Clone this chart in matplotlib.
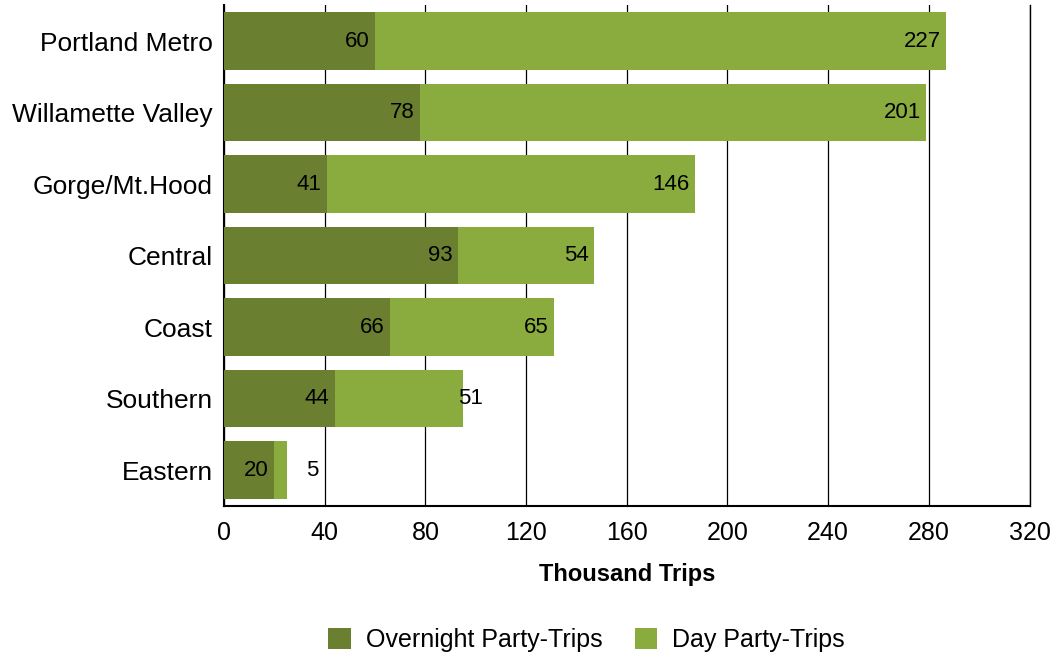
import numpy as np
import matplotlib.pyplot as plt

plt.rcParams['font.family'] = ['Liberation Sans', 'DejaVu Sans']

regions = ['Portland Metro', 'Willamette Valley', 'Gorge/Mt.Hood', 'Central',
           'Coast', 'Southern', 'Eastern']
overnight = [60, 78, 41, 93, 66, 44, 20]
day = [227, 201, 146, 54, 65, 51, 5]

dark = '#6A8030'
light = '#8AAC3E'

fig = plt.figure(figsize=(10.57, 6.56), dpi=100)
ax = fig.add_axes([0.212, 0.229, 0.762, 0.763])

y = np.arange(len(regions))
ax.barh(y, overnight, height=0.8, color=dark, label='Overnight Party-Trips', zorder=3)
ax.barh(y, day, left=overnight, height=0.8, color=light, label='Day Party-Trips', zorder=3)

# value labels at inside end of each segment
for i in range(len(regions)):
    ax.annotate(str(overnight[i]), (overnight[i], y[i]), xytext=(-4, 0),
                textcoords='offset points', ha='right', va='center', fontsize=16, zorder=4)
    end = overnight[i] + day[i]
    if day[i] >= 54:
        ax.annotate(str(day[i]), (end, y[i]), xytext=(-4, 0),
                    textcoords='offset points', ha='right', va='center', fontsize=16, zorder=4)
    elif day[i] >= 20:
        ax.annotate(str(day[i]), (end, y[i]), xytext=(-4, 0),
                    textcoords='offset points', ha='left', va='center', fontsize=16, zorder=4)
    else:
        ax.annotate(str(day[i]), (end, y[i]), xytext=(14, 0),
                    textcoords='offset points', ha='left', va='center', fontsize=16, zorder=4)

ax.set_xlim(0, 320)
ax.set_ylim(6.5, -0.5)
ax.set_xticks(np.arange(0, 321, 40))
ax.set_yticks(y)
ax.set_yticklabels(regions, fontsize=19)
ax.tick_params(axis='x', labelsize=18, length=0, pad=11)
ax.tick_params(axis='y', length=0, pad=8)
ax.xaxis.grid(True, color='black', linewidth=0.9, zorder=0)
ax.set_axisbelow(True)
ax.spines['top'].set_visible(False)
ax.spines['right'].set_linewidth(1.0)
ax.spines['left'].set_linewidth(1.5)
ax.spines['bottom'].set_linewidth(1.5)
ax.set_xlabel('Thousand Trips', fontsize=17, fontweight='bold', labelpad=13)

fig.legend(loc='center', bbox_to_anchor=(0.555, 0.024), ncol=2, frameon=False,
           fontsize=18, handlelength=0.9, handleheight=0.9, columnspacing=1.3,
           handletextpad=0.6)

fig.savefig('out.png', dpi=100)
